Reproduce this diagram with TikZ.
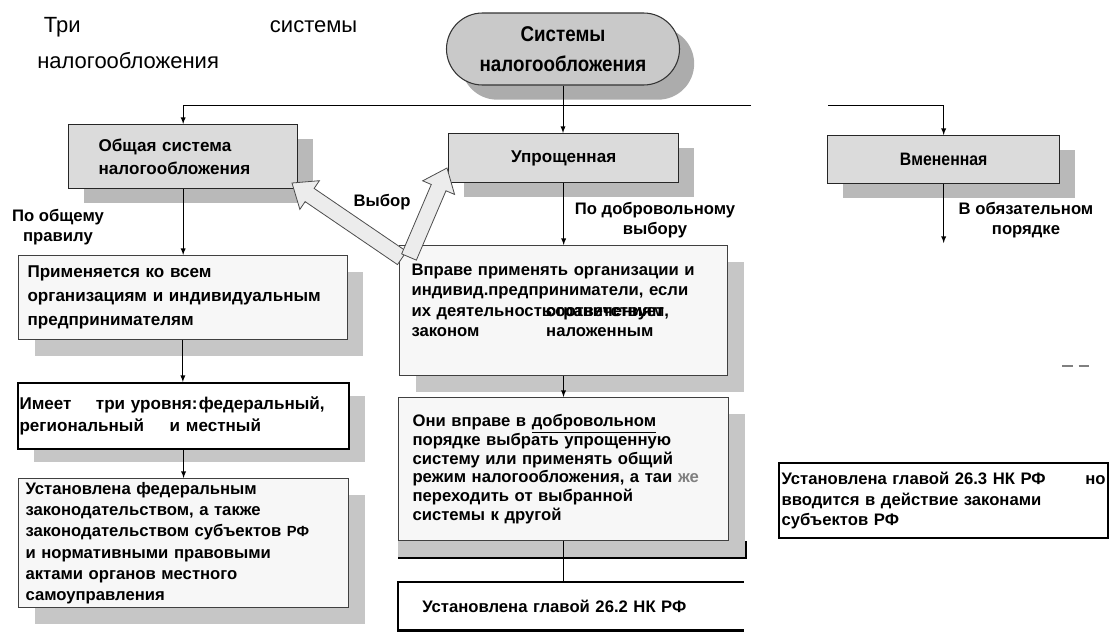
\documentclass[tikz,border=0pt]{standalone}
\usepackage{fontspec}
\setmainfont{Liberation Sans}
\newfontfamily\condfont[FakeStretch=0.88]{Liberation Sans}
\usetikzlibrary{arrows,calc,shadows,shapes.misc}

\begin{document}
\begin{tikzpicture}[x=0.75pt,y=-0.75pt]

	\tikzstyle connector lines=[line width=0.7pt, -latex];
	\tikzstyle system box=[draw=black!85, line width=1pt, fill=gray!28, anchor=north west, inner sep=0pt, drop shadow={shadow xshift=11.5pt, shadow yshift=-11pt, fill=gray!55, opacity=1}, font=\fontsize{12.8}{17}\selectfont\bfseries];
	\tikzstyle rule box=[draw=black!75, line width=0.8pt, fill=gray!6, anchor=north west, inner sep=0pt, align=left, drop shadow={shadow xshift=12pt, shadow yshift=-12pt, fill=gray!45, opacity=1}, font=\fontsize{12.5}{16}\selectfont\bfseries];
	\tikzstyle law box=[draw=black, line width=1.6pt, fill=white, anchor=north west, inner sep=0pt, align=left, font=\fontsize{12.5}{15.4}\selectfont\bfseries];
	\tikzstyle way label=[align=center, font=\fontsize{12.5}{15}\selectfont\bfseries];
	\tikzstyle choice arrow=[draw=black!70, line width=0.6pt, fill=gray!15];

	\useasboundingbox (0,0) rectangle (1109,639);

	% title
	\node[anchor=north west, inner sep=0pt, text width=240pt, align=left, font=\fontsize{16.5}{27}\selectfont] (title) at (37,17) {\hspace*{5pt}Три\hfill системы\\налогообложения};

	% top level
	\node[rounded rectangle, draw=black!80, line width=0.8pt, fill=gray!42, minimum width=174.75pt, minimum height=54pt, inner sep=0pt, align=center, font=\condfont\fontsize{16}{22.5}\selectfont\bfseries, drop shadow={shadow xshift=11pt, shadow yshift=-11pt, fill=gray!65, opacity=1}] (root) at (563,49) {Системы\\налогообложения};

	\node[system box, minimum width=171.75pt, minimum height=48pt, text width=126.75pt, inner xsep=22.5pt, align=left] (obsh) at (68,124) {Общая система\\налогообложения};
	\node[system box, minimum width=172.5pt, minimum height=36.75pt] (upr) at (448,133) {Упрощенная};
	\node[system box, minimum width=174pt, minimum height=36pt, font=\condfont\fontsize{13.5}{16}\selectfont\bfseries] (vmen) at (827,135) {Вмененная};

	% general system
	\node[rule box, minimum width=246pt, minimum height=63pt, text width=233pt, inner xsep=6.75pt, font=\fontsize{12.8}{18}\selectfont\bfseries] (prim) at (18,255) {Применяется ко всем\\организациям и индивидуальным\\предпринимателям};
	\node[law box, minimum width=248.25pt, minimum height=49.5pt, text width=246pt, inner xsep=1pt, font=\fontsize{12.8}{16}\selectfont\bfseries, drop shadow={shadow xshift=12pt, shadow yshift=-10pt, fill=gray!45, opacity=1}] (imeet) at (17,382) {Имеет\hspace{14pt} три уровня:\hspace{1pt}федеральный,\\региональный\hspace{15pt} и местный};
	\node[rule box, minimum width=247.5pt, minimum height=96.75pt, text width=237pt, inner xsep=5.25pt] (ustfed) at (18,478) {Установлена федеральным\\законодательством, а также\\законодательством субъектов {\fontsize{11}{16}\selectfont РФ}\\и нормативными правовыми\\актами органов местного\\самоуправления};

	% simplified system
	\node[rule box, minimum width=246pt, minimum height=97.5pt, text width=228pt, inner xsep=9pt, font=\fontsize{12.5}{15.25}\selectfont\bfseries] (vprave) at (399,245) {Вправе применять организации и\\индивид.предприниматели, если\\\makebox[101pt][l]{их деятельность}\rlap{соответствует}ограничениям,\\\makebox[101pt][l]{законом}наложенным\\\mbox{}};
	\node[rule box, minimum width=247.5pt, minimum height=107.25pt, text width=226.5pt, inner xsep=10.5pt, font=\fontsize{12.5}{14}\selectfont\bfseries] (oni) at (398,397) {Они вправе в \underline{добровольном}\\порядке выбрать упрощенную\\систему или применять общий\\режим налогообложения, а таи \textcolor{gray}{же}\\переходить от выбранной\\системы к другой};
	\fill[gray!45] (oni.south west) rectangle ([xshift=12.75pt,yshift=-12.75pt]oni.south east);
	\draw[line width=1.6pt] ([yshift=-12.75pt]oni.south west) -- ([xshift=12.75pt,yshift=-12.75pt]oni.south east) -- ([xshift=12.75pt]oni.south east);
	\node[anchor=north west, fill=white, minimum width=258.75pt, minimum height=36pt, text width=222.75pt, inner xsep=18pt, inner ysep=0pt, align=left, font=\fontsize{12.5}{15}\selectfont\bfseries] (ust262) at (398,582) {Установлена главой 26.2 НК РФ};
	\draw[line width=1.6pt] (ust262.north east) -- (ust262.north west) -- (ust262.south west) -- (ust262.south east);

	% imputed system
	\node[law box, minimum width=246.75pt, minimum height=56.25pt, text width=243pt, inner xsep=1.9pt] (ust263) at (778,462) {Установлена главой 26.3 НК РФ\hfill но\\вводится в действие законами\\субъектов РФ};

	% labels
	\node[way label] (general) at (58,227) {По общему\\правилу};
	\node[way label] (voluntary) at (655,220) {По добровольному\\выбору};
	\node[way label] (mandatory) at (1026,220) {В обязательном\\порядке};
	\node[way label] (choice) at (382,202) {Выбор};

	% connectors
	\foreach \a/\b in {root/upr,obsh/prim,prim/imeet,imeet/ustfed,upr/vprave,vprave/oni}
		\draw[connector lines] (\a.south) -- (\a.south |- \b.north);
	\draw[line width=0.8pt] (oni.south) -- (oni.south |- ust262.north);

	\coordinate (busA) at (751,105);
	\coordinate (busB) at (828,105);
	\coordinate (vmenend) at (944,243);
	\draw[line width=0.7pt] (busA) -- (busA -| obsh.north);
	\draw[connector lines] (busA -| obsh.north) -- (obsh.north);
	\draw[line width=0.7pt] (busB) -- (busB -| vmen.north);
	\draw[connector lines] (busB -| vmen.north) -- (vmen.north);
	\draw[connector lines] (vmen.south) -- (vmen.south |- vmenend);

	% choice arrows
	\coordinate (baseA) at (402,258);
	\coordinate (tipA) at (292,183);
	\coordinate (baseB) at (409,257);
	\coordinate (tipB) at (447,168);
	\foreach \b/\t in {baseA/tipA,baseB/tipB}
		\filldraw[choice arrow] ($(\b)!6pt!90:(\t)$) -- ($($(\t)!16pt!(\b)$)!6pt!-90:(\b)$) -- ($($(\t)!16pt!(\b)$)!13pt!-90:(\b)$) -- (\t) -- ($($(\t)!16pt!(\b)$)!13pt!90:(\b)$) -- ($($(\t)!16pt!(\b)$)!6pt!90:(\b)$) -- ($(\b)!6pt!-90:(\t)$) -- cycle;

	\draw[gray, line width=0.8pt, dash pattern=on 8pt off 4.5pt] (1062,366) -- (1093,366);

\end{tikzpicture}
\end{document}
